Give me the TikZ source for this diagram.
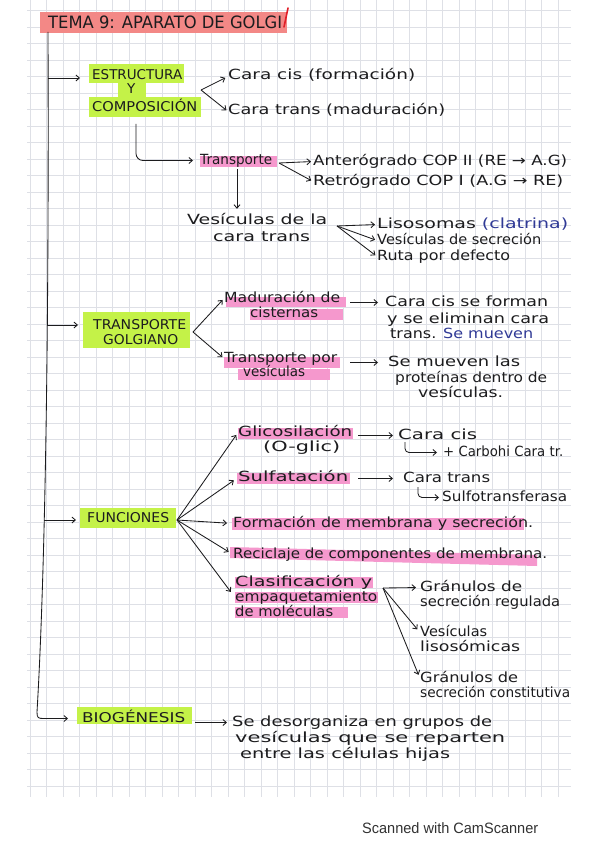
\documentclass[tikz,border=0pt]{standalone}
\usepackage{fontspec}
\setmainfont{DejaVu Sans}
\newfontfamily\camfont{Liberation Sans}
\usepackage{graphicx}
\usetikzlibrary{arrows.meta,calc}
\definecolor{ink}{RGB}{28,28,30}
\definecolor{gridc}{RGB}{222,224,230}
\definecolor{hlgreen}{RGB}{196,242,72}
\definecolor{hlpink}{RGB}{245,152,205}
\definecolor{hlred}{RGB}{243,136,134}
\definecolor{penblue}{RGB}{48,58,150}
\definecolor{penred}{RGB}{225,30,40}
\definecolor{camgray}{RGB}{50,50,50}
\newcommand\fitw[2]{\resizebox{#1pt}{\height}{#2}}
\begin{document}
\begin{tikzpicture}[x=1pt,y=-1pt,
  hw/.style={font=\fontsize{14}{16}\selectfont, inner sep=0pt, text height=10pt, text depth=3pt, anchor=base west, text=ink},
  hwcap/.style={hw, font=\fontsize{13.5}{16}\selectfont},
  arr/.style={draw=ink, line width=0.85pt, -{Straight Barb[length=3.5pt,width=6pt]}},
  hlg/.style={fill=hlgreen}, hlp/.style={fill=hlpink}]

\useasboundingbox (0,0) rectangle (599,848);
\fill[white] (0,0) rectangle (599,848);
\begin{scope}
\clip (27,0) rectangle (571,797);
\foreach \i in {0,...,33} \draw[gridc, line width=0.55pt] ({30+16.5*\i},0) -- ({30+16.5*\i},797);
\foreach \j in {0,...,47} \draw[gridc, line width=0.55pt] (27,{10.3+16.5*\j}) -- (571,{10.3+16.5*\j});
\end{scope}

% highlights
\fill[hlred] (40,12) rectangle (287,33);
\fill[hlg] (89,64) rectangle (184,83);
\fill[hlg] (118,82) rectangle (146,97);
\fill[hlg] (89,97) rectangle (201,117);
\fill[hlp] (200,156) rectangle (277,167);
\fill[hlg] (83,312) rectangle (190,348);
\fill[hlp] (226,297) rectangle (346,307);
\fill[hlp] (250,309) rectangle (343,320);
\fill[hlp] (224,357) rectangle (340,368);
\fill[hlp] (238,369) rectangle (330,380);
\fill[hlg] (80,508) rectangle (176,528);
\fill[hlp] (238,428) rectangle (353,439);
\fill[hlp] (237,473) rectangle (350,484);
\fill[hlp] (232,518) rectangle (524,530);
\fill[hlp] (230,547) -- (537,555) -- (537,566) -- (230,558) -- cycle;
\fill[hlp] (235,577) rectangle (373,588);
\fill[hlp] (235,592) rectangle (378,603);
\fill[hlp] (235,607) rectangle (348,618);
\fill[hlg] (77,707) rectangle (192,724);

% title
\node[hw, font=\fontsize{17}{20}\selectfont, text height=12pt] (title) at (48,29) {\fitw{234}{TEMA 9: APARATO DE GOLGI}};
\draw[penred, line width=1.6pt, line cap=round] (288,8) -- (284,27);

% estructura
\node[hwcap] (estr) at (92,80) {\fitw{90}{ESTRUCTURA}};
\node[hwcap] (ey) at (127,94) {Y};
\node[hwcap] (comp) at (92,112) {\fitw{105}{COMPOSICIÓN}};
\node[hw] (ccis) at (228,80) {\fitw{187}{Cara cis (formación)}};
\node[hw] (ctrans) at (228,115) {\fitw{217}{Cara trans (maduración)}};
\node[hw] (transp) at (200,164) {\fitw{72}{Transporte}};
\node[hw] (ant) at (313,165) {\fitw{254}{Anterógrado COP II (RE → A.G)}};
\node[hw] (ret) at (313,185) {\fitw{250}{Retrógrado COP I (A.G → RE)}};
\node[hw] (ves1) at (187,224) {\fitw{140}{Vesículas de la}};
\node[hw] (ves2) at (213,241) {\fitw{97}{cara trans}};
\node[hw] (lis) at (377,228) {\fitw{191}{Lisosomas \textcolor{penblue}{(clatrina)}}};
\node[hw] (vsec) at (377,244) {\fitw{164}{Vesículas de secreción}};
\node[hw] (ruta) at (377,260) {\fitw{133}{Ruta por defecto}};

% transporte golgiano
\node[hwcap] (tg1) at (93,329) {\fitw{93}{TRANSPORTE}};
\node[hwcap] (tg2) at (103,344) {\fitw{75}{GOLGIANO}};
\node[hw] (mad1) at (224,302) {\fitw{116}{Maduración de}};
\node[hw] (mad2) at (250,317) {\fitw{68}{cisternas}};
\node[hw] (cc1) at (385,306) {\fitw{163}{Cara cis se forman}};
\node[hw] (cc2) at (387,323) {\fitw{162}{y se eliminan cara}};
\node[hw] (cc3) at (390,338) {\fitw{143}{trans. \textcolor{penblue}{Se mueven}}};
\node[hw] (tp1) at (224,362) {\fitw{113}{Transporte por}};
\node[hw] (tp2) at (243,376) {\fitw{62}{vesículas}};
\node[hw] (sm1) at (388,366) {\fitw{132}{Se mueven las}};
\node[hw] (sm2) at (395,382) {\fitw{152}{proteínas dentro de}};
\node[hw] (sm3) at (418,397) {\fitw{85}{vesículas.}};

% funciones
\node[hwcap] (fun) at (87,522) {\fitw{82}{FUNCIONES}};
\node[hw] (gli) at (238,436) {\fitw{114}{Glicosilación}};
\node[hw] (ogl) at (263,451) {\fitw{77}{(O-glic)}};
\node[hw] (gcis) at (398,439) {\fitw{79}{Cara cis}};
\node[hw] (carb) at (443,456) {\fitw{120}{+ Carbohi Cara tr.}};
\node[hw] (sulf) at (238,481) {\fitw{110}{Sulfatación}};
\node[hw] (gtr) at (403,482) {\fitw{87}{Cara trans}};
\node[hw] (sft) at (442,501) {\fitw{125}{Sulfotransferasa}};
\node[hw] (form) at (233,527) {\fitw{300}{Formación de membrana y secreción.}};
\node[hw] (rec) at (233,558) {\fitw{314}{Reciclaje de componentes de membrana.}};
\node[hw] (cl1) at (235,586) {\fitw{137}{Clasificación y}};
\node[hw] (cl2) at (235,601) {\fitw{142}{empaquetamiento}};
\node[hw] (cl3) at (235,616) {\fitw{98}{de moléculas}};
\node[hw] (gr1) at (420,591) {\fitw{102}{Gránulos de}};
\node[hw] (gr2) at (420,606) {\fitw{140}{secreción regulada}};
\node[hw] (vl1) at (420,636) {\fitw{67}{Vesículas}};
\node[hw] (vl2) at (420,651) {\fitw{100}{lisosómicas}};
\node[hw] (gc1) at (420,682) {\fitw{98}{Gránulos de}};
\node[hw] (gc2) at (420,697) {\fitw{150}{secreción constitutiva}};

% biogenesis
\node[hwcap] (bio) at (82,722) {\fitw{103}{BIOGÉNESIS}};
\node[hw] (sd1) at (232,726) {\fitw{260}{Se desorganiza en grupos de}};
\node[hw] (sd2) at (235,742) {\fitw{270}{vesículas que se reparten}};
\node[hw] (sd3) at (240,758) {\fitw{210}{entre las células hijas}};

\node[anchor=base west, inner sep=0pt, font=\camfont\fontsize{15}{18}\selectfont, text=camgray] (cam) at (362,833) {\fitw{176}{Scanned with CamScanner}};

% spine
\coordinate (sTop) at (48,32);
\coordinate (sCorner) at (44,718.5);
\draw[arr, shorten >=14pt] (sTop) .. controls (49,300) and (46,560) .. (37,712) .. controls (37,718) and (38,718.5) .. (sCorner) -- (sCorner -| bio.west);
\coordinate (sp1) at (48.1,78);
\coordinate (sp2) at (47.4,325);
\coordinate (sp3) at (44.4,520);
\draw[arr, shorten >=12pt] (sp1) -- (sp1 -| estr.west);
\draw[arr, shorten >=15pt] (sp2) -- (sp2 -| tg1.west);
\draw[arr, shorten >=11pt] (sp3) -- (sp3 -| fun.west);

% estructura connectors
\coordinate (fE) at (201,90);
\draw[arr, shorten >=3pt] (fE) -- (ccis.west);
\draw[arr, shorten >=2pt] (fE) -- (ctrans.west);
\coordinate (eDown) at (136,124);
\draw[arr, rounded corners=7pt, shorten >=7pt] (eDown) |- (transp.west);
\coordinate (fT) at (279,163);
\draw[arr, shorten >=2pt] (fT) -- (ant.west);
\draw[arr, shorten >=2pt] (fT) -- (ret.west);
\coordinate (tDown) at (237,169);
\draw[arr, shorten >=5pt] (tDown) -- (tDown |- ves1.north);
\coordinate (fV) at (337,226);
\draw[arr, shorten >=2pt] (fV) -- (lis.west);
\draw[arr, shorten >=2pt] (fV) -- (vsec.west);
\draw[arr, shorten >=2pt] (fV) -- (ruta.west);

% transporte golgiano connectors
\coordinate (fTG) at (193,332);
\draw[arr, shorten >=2pt] (fTG) -- (mad1.west);
\draw[arr, shorten >=2pt] (fTG) -- (tp1.west);
\draw[arr, shorten <=10pt, shorten >=7pt] (cc1.west -| mad1.east) -- (cc1.west);
\draw[arr, shorten <=13pt, shorten >=10pt] (sm1.west -| tp1.east) -- (sm1.west);

% funciones connectors
\coordinate (fF) at (177,520);
\draw[arr, shorten >=3pt] (fF) -- (gli.west);
\draw[arr, shorten >=5pt] (fF) -- (sulf.west);
\draw[arr, shorten >=6pt] (fF) -- (form.west);
\draw[arr, shorten >=5pt] (fF) -- (rec.west);
\draw[arr, shorten >=7pt] (fF) -- (cl2.west);
\draw[arr, shorten <=6pt, shorten >=5pt] (gcis.west -| gli.east) -- (gcis.west);
\coordinate (hk1) at (405,442);
\draw[arr, rounded corners=4pt, shorten >=6pt] (hk1) |- (carb.west);
\draw[arr, shorten <=10pt, shorten >=10pt] (gtr.west -| sulf.east) -- (gtr.west);
\coordinate (hk2) at (418,487);
\draw[arr, rounded corners=4pt, shorten >=3pt] (hk2) |- (sft.west);
\coordinate (fC) at (383,588);
\draw[arr, shorten >=4pt] (fC) -- (gr1.west);
\draw[arr, shorten >=4pt] (fC) -- (vl1.west);
\draw[arr, shorten >=4pt] (fC) -- (gc1.west);

% biogenesis connector
\draw[arr, shorten <=10pt, shorten >=5pt] (sd1.west -| bio.east) -- (sd1.west);
\end{tikzpicture}
\end{document}
